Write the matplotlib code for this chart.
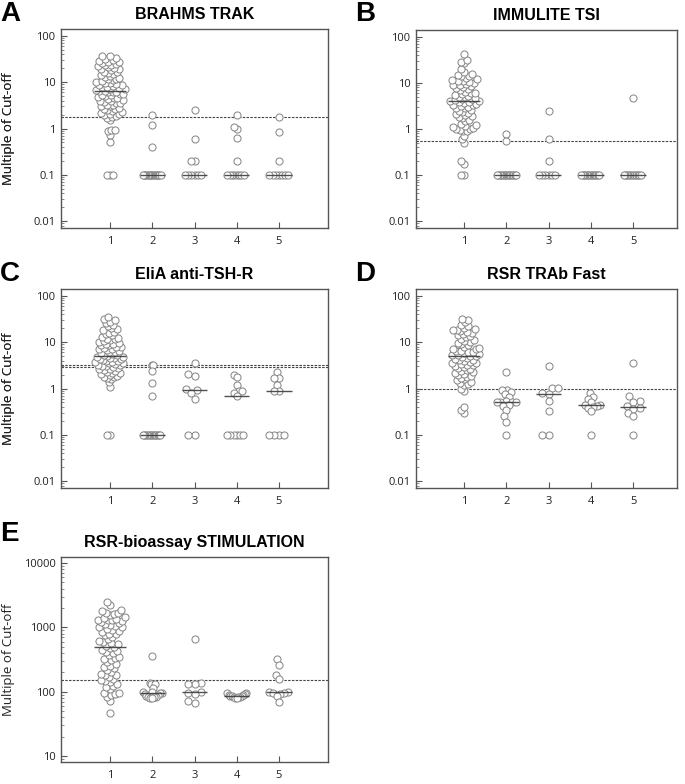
import numpy as np
import matplotlib
matplotlib.use('Agg')
from matplotlib import pyplot as plt
from matplotlib.ticker import LogLocator, FixedLocator, FixedFormatter, NullFormatter

groups = [1, 2, 3, 4, 5]

# ---------------------------------------------------------------------------
# data (multiple of cut-off)
#
brahms_1 = [0.1, 0.1, 0.1, 0.5, 0.72, 0.88, 0.92, 0.95, 1.5, 1.7,
            1.8, 1.9, 2.0, 2.05, 2.1, 2.2, 2.3, 2.4, 2.5, 2.6, 2.7, 2.8, 3.0,
            3.1, 3.2, 3.3, 3.5, 3.6, 3.8, 3.9, 4.0, 4.2, 4.4, 4.5, 4.6, 4.8, 5.0,
            5.2, 5.3, 5.5, 5.7, 6.0, 6.2, 6.3, 6.4,
            6.6, 6.9, 7.0, 7.2, 7.5, 7.8, 8.0, 8.3, 8.5, 8.7, 9.0, 9.5, 9.8, 10,
            10.5, 11, 11.5, 12, 12.5, 13, 13.5, 14, 15, 16, 16.5, 17, 18, 19,
            19.5, 20, 21, 22, 23, 24, 25, 26, 27, 28, 29, 30, 32, 34, 36, 37]
brahms_2 = [2.0, 1.2, 0.4] + [0.1] * 16
brahms_3 = [2.5, 0.6, 0.2, 0.2] + [0.1] * 6
brahms_4 = [2.0, 1.0, 1.08, 0.62, 0.2] + [0.1] * 8
brahms_5 = [1.75, 0.85, 0.2] + [0.1] * 7
brahms_cutoff = [1.8]

immulite_1 = [0.1, 0.1, 0.17, 0.2, 0.5, 0.6, 0.7, 0.9, 0.9, 0.95, 1.0, 1.0,
              1.05, 1.1, 1.15, 1.2, 1.3, 1.5, 1.6, 1.7, 1.8, 1.9, 2.0, 2.1,
              2.2, 2.3, 2.5, 2.6, 2.8, 2.9, 3.0, 3.2, 3.3, 3.4, 3.5, 3.7, 3.8,
              3.9, 4.0, 4.1,
              4.2, 4.4, 4.5, 4.6, 4.9, 5.0, 5.2, 5.5, 5.8, 6.0, 6.2, 6.5, 7.0,
              7.5, 7.8, 8.0, 8.5, 9.0, 9.2, 9.5, 10, 10.5, 11, 11.2, 11.5, 12,
              13, 14, 14.5, 15, 16, 17, 20, 27, 29, 31, 42]
immulite_2 = [0.78, 0.54] + [0.1] * 15
immulite_3 = [2.4, 0.62, 0.2] + [0.1] * 6
immulite_4 = [0.1] * 14
immulite_5 = [4.6] + [0.1] * 12
immulite_cutoff = [0.55]

elia_1 = [0.1, 0.1, 1.1, 1.4, 1.6, 1.7, 1.75, 1.8, 1.9, 2.0, 2.1, 2.15, 2.2,
          2.3, 2.4, 2.5, 2.6, 2.7, 2.8, 2.9, 3.0, 3.1, 3.2, 3.3, 3.4, 3.5, 3.6,
          3.7, 3.8, 3.9, 4.0, 4.2, 4.3, 4.4, 4.5, 4.6, 4.8, 4.9, 5.0,
          5.2, 5.4, 5.5, 5.8, 6.1, 6.3, 6.5, 6.8, 7.0, 7.2, 7.5, 7.8, 8.0, 8.5,
          8.8, 9.0, 9.2, 9.5, 10, 10.5, 11, 11.5, 12, 12.5, 13, 14, 15, 16, 17,
          18, 19, 20, 22, 24, 26, 28, 30, 32, 35]
elia_2 = [3.2, 3.2, 2.4, 1.3, 0.7] + [0.1] * 14
elia_3 = [3.5, 2.1, 1.9, 1.0, 0.92, 0.8, 0.6, 0.1, 0.1]
elia_4 = [2.0, 1.8, 1.2, 0.9, 0.9, 0.8, 0.7] + [0.1] * 6
elia_5 = [2.3, 1.7, 1.7, 1.2, 0.9, 0.9] + [0.1] * 4
elia_cutoff = [2.9, 3.3]

rsr_1 = [0.3, 0.34, 0.4, 0.9, 1.0, 1.2, 1.25, 1.3, 1.4, 1.5, 1.6, 1.7, 1.8,
         1.9, 2.0, 2.1, 2.2, 2.3, 2.4, 2.5, 2.7, 2.8, 2.9, 3.0, 3.2, 3.3, 3.4,
         3.5, 3.6, 3.8, 4.0, 4.1, 4.2, 4.4, 4.6, 4.8, 5.0,
         5.1, 5.2, 5.4, 5.5, 5.8, 6.0, 6.2, 6.4, 6.6, 7.0, 7.2, 7.4, 8.0, 8.5,
         9.0, 9.5, 10, 10.5, 11, 12, 13, 13.5, 14, 15, 16, 17, 17.5, 18, 18.5,
         19, 20, 22, 24, 27, 30, 31.6]
rsr_2 = [2.3, 0.95, 0.95, 0.85, 0.75, 0.65, 0.55, 0.5, 0.5, 0.5, 0.5, 0.45,
         0.42, 0.35, 0.25, 0.19, 0.1]
rsr_3 = [3.1, 1.05, 1.05, 0.8, 0.78, 0.55, 0.33, 0.1, 0.1]
rsr_4 = [0.8, 0.65, 0.6, 0.5, 0.45, 0.45, 0.42, 0.4, 0.38, 0.32, 0.1]
rsr_5 = [3.5, 0.68, 0.55, 0.52, 0.42, 0.38, 0.36, 0.3, 0.25, 0.1]
rsr_cutoff = [1.0]

bio_1 = [46, 73, 82, 88, 92, 95, 95, 110, 120, 125, 130, 140, 145, 150, 160,
         170, 180, 185, 190, 200, 215, 230, 240, 250, 270, 290, 310, 320, 330,
         350, 370, 400, 420, 430, 450, 480, 500,
         520, 550, 580, 600, 620, 660, 700, 750, 780, 800, 850, 880, 900, 950,
         1000, 1000, 1050, 1100, 1120, 1150, 1200, 1250, 1300, 1300, 1320,
         1350, 1400, 1450, 1550, 1600, 1650, 1700, 1800, 1850, 2200, 2450]
bio_2 = [360, 135, 130, 130, 115, 100, 98, 96, 94, 92, 88, 86, 84, 83, 82, 81, 80]
bio_3 = [650, 135, 130, 130, 100, 95, 92, 72, 66]
bio_4 = [97, 95, 92, 90, 88, 87, 86, 85, 84, 83, 82, 81, 80]
bio_5 = [320, 260, 180, 160, 100, 98, 97, 95, 92, 85, 70]
bio_cutoff = [150]

fig_w, fig_h = 685, 784
fig = plt.figure(figsize=(fig_w / 100, fig_h / 100), dpi=100)

EDGE = '#8a8a8a'
DARK = '#333333'
DIAM = 7.0   # circle diameter in pixels


def swarm(ypx, d):
    # simple beeswarm: place each point as close to the centre as possible
    xs = np.zeros(len(ypx))
    done = []
    for i in np.argsort(ypx, kind='stable'):
        y = ypx[i]
        near = [j for j in done if abs(ypx[j] - y) < d]
        cands = [0.0]
        for j in near:
            dx = np.sqrt(d ** 2 - (ypx[j] - y) ** 2)
            cands += [xs[j] - dx, xs[j] + dx]
        cands.sort(key=lambda c: (abs(c), c))
        for c in cands:
            if all((c - xs[j]) ** 2 + (y - ypx[j]) ** 2 >= d ** 2 - 1e-6 for j in near):
                xs[i] = c
                break
        done.append(i)
    return xs


def panel(rect_px, xlim, ylim, data, cutoffs, title, letter, letter_xy,
          ticks, ticklabels):
    l, t, r, b = rect_px
    ax = fig.add_axes([l / fig_w, 1 - b / fig_h, (r - l) / fig_w, (b - t) / fig_h])
    ax.set_yscale('log')
    ax.set_xlim(*xlim)
    ax.set_ylim(*ylim)

    px_per_x = (r - l) / (xlim[1] - xlim[0])
    px_per_dec = (b - t) / (np.log10(ylim[1]) - np.log10(ylim[0]))

    for c in cutoffs:
        ax.axhline(c, color='#444444', lw=0.8, ls=(0, (2.2, 1.2)), zorder=1)

    for g, vals in zip(groups, data):
        vals = np.array(vals, dtype=float)
        ypx = np.log10(vals) * px_per_dec
        if g == 1:
            xs = swarm(ypx, DIAM * 0.78)
            limit = 15.0
        else:
            xs = swarm(ypx, DIAM * 0.95)
            limit = 9.5
        m = np.abs(xs).max()
        if m > limit:
            xs = xs * limit / m
        ax.scatter(g + xs / px_per_x, vals, s=26, facecolor='white',
                   edgecolor=EDGE, linewidth=0.75, zorder=3)
        half = 0.38 if g == 1 else 0.3
        med = np.median(vals)
        ax.plot([g - half, g + half], [med, med], color=DARK, lw=1.0,
                zorder=4, solid_capstyle='butt', alpha=0.85)

    ax.set_xticks(groups)
    ax.set_xticklabels([str(g) for g in groups])
    ax.yaxis.set_major_locator(FixedLocator(ticks))
    ax.yaxis.set_major_formatter(FixedFormatter(ticklabels))
    ax.yaxis.set_minor_locator(LogLocator(base=10, subs=np.arange(2, 10), numticks=20))
    ax.yaxis.set_minor_formatter(NullFormatter())
    ax.tick_params(axis='both', which='major', direction='in', length=4,
                   width=0.8, color='#555555', labelsize=8, labelcolor='#222222')
    ax.tick_params(axis='y', which='minor', direction='in', length=2.2,
                   width=0.6, color='#777777')
    ax.tick_params(axis='y', which='major', pad=4)
    ax.tick_params(axis='x', which='major', pad=6)
    for lab in ax.get_xticklabels() + ax.get_yticklabels():
        lab.set_family('Open Sans')
    for sp in ax.spines.values():
        sp.set_color('#555555')
        sp.set_linewidth(1.0)

    ax.set_ylabel('Multiple of Cut-off', family='Open Sans', fontsize=9.5,
                  color='#222222')
    ax.yaxis.set_label_coords(-(l - 15) / (r - l), 0.5)
    ax.set_title(title, family='Liberation Sans', fontweight='bold',
                 fontsize=11.5, pad=7)
    fig.text(letter_xy[0] / fig_w, 1 - letter_xy[1] / fig_h, letter,
             family='Liberation Sans', fontweight='bold', fontsize=20,
             ha='left', va='top')
    return ax


small_ticks = [0.01, 0.1, 1, 10, 100]
small_labels = ['0.01', '0.1', '1', '10', '100']
big_ticks = [10, 100, 1000, 10000]
big_labels = ['10', '100', '1000', '10000']

panel((61, 29, 328, 228), (-0.16, 6.16), (0.0071, 141),
      [brahms_1, brahms_2, brahms_3, brahms_4, brahms_5], brahms_cutoff,
      'BRAHMS TRAK', 'A', (0, 1), small_ticks, small_labels)
panel((416, 30, 677, 228), (-0.14, 6.04), (0.0071, 141),
      [immulite_1, immulite_2, immulite_3, immulite_4, immulite_5], immulite_cutoff,
      'IMMULITE TSI', 'B', (355, 1), small_ticks, small_labels)
panel((61, 289, 328, 488), (-0.16, 6.16), (0.0071, 141),
      [elia_1, elia_2, elia_3, elia_4, elia_5], elia_cutoff,
      'EliA anti-TSH-R', 'C', (0, 261), small_ticks, small_labels)
panel((416, 289, 677, 488), (-0.14, 6.04), (0.0071, 141),
      [rsr_1, rsr_2, rsr_3, rsr_4, rsr_5], rsr_cutoff,
      'RSR TRAb Fast', 'D', (355, 261), small_ticks, small_labels)
panel((61, 557, 328, 762), (-0.16, 6.16), (8.1, 12400),
      [bio_1, bio_2, bio_3, bio_4, bio_5], bio_cutoff,
      'RSR-bioassay STIMULATION', 'E', (0, 521), big_ticks, big_labels)

fig.savefig('out.png', dpi=100)
